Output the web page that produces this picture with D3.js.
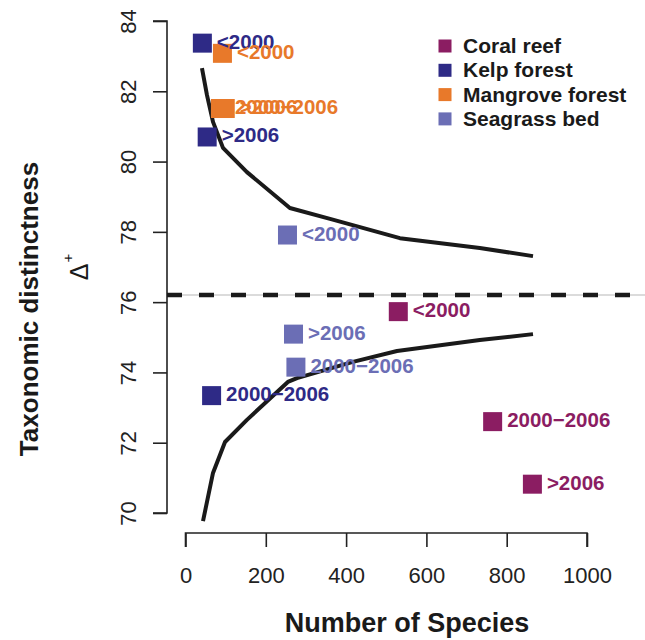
<!DOCTYPE html>
<html>
<head>
<meta charset="utf-8">
<script src="https://cdn.jsdelivr.net/npm/d3@7"></script>
<style>
  html, body { margin: 0; padding: 0; background: #fff; }
  svg { display: block; font-family: "Liberation Sans", Arial, Helvetica, sans-serif; }
</style>
</head>
<body>
<svg id="chart" width="645" height="640"></svg>
<script>
// ---- data ----
const habitats = ["Coral reef", "Kelp forest", "Mangrove forest", "Seagrass bed"];
const habitatColors = ["#8b1d62", "#2e2a86", "#e8792a", "#6b6eb5"];

const pointHabitat = ["Kelp forest", "Mangrove forest", "Mangrove forest", "Mangrove forest", "Kelp forest",
                      "Seagrass bed", "Coral reef", "Seagrass bed", "Seagrass bed", "Kelp forest",
                      "Coral reef", "Coral reef"];
const pointPeriod = ["<2000", "<2000", "2000\u22122006", ">2006", ">2006",
                     "<2000", "<2000", ">2006", "2000\u22122006", "2000\u22122006",
                     "2000\u22122006", ">2006"];
const pointSpecies = [42, 92, 87, 99, 54, 254, 530, 269, 275, 65, 765, 864];
const pointDelta = [83.37, 83.08, 81.51, 81.51, 80.70, 77.91, 75.73, 75.09, 74.15, 73.34, 72.60, 70.82];

const upperSpecies = [41, 53.5, 68.5, 93.4, 153, 260, 360, 534, 733, 865.5];
const upperDelta = [82.66, 81.89, 81.13, 80.39, 79.70, 78.68, 78.37, 77.82, 77.54, 77.31];
const lowerSpecies = [43.6, 68.5, 98.4, 153, 255, 277.7, 417, 526.8, 733, 865.5];
const lowerDelta = [69.77, 71.14, 72.02, 72.65, 73.73, 73.84, 74.30, 74.61, 74.92, 75.09];

const meanDelta = 76.2;

const xTicks = [0, 200, 400, 600, 800, 1000];
const yTicks = [70, 72, 74, 76, 78, 80, 82, 84];

// ---- drawing ----
const svg = d3.select("#chart");
const x = d3.scaleLinear().domain([0, 1000]).range([185.5, 587]);
const y = d3.scaleLinear().domain([70, 84]).range([513, 21]);
const color = d3.scaleOrdinal().domain(habitats).range(habitatColors);

// axes
const xAxis = svg.append("g").attr("transform", "translate(0,533)")
  .call(d3.axisBottom(x).tickValues(xTicks).tickFormat(d3.format("d")).tickSize(14).tickPadding(20).tickSizeOuter(0));
xAxis.select(".domain").attr("d", `M${x(0)},14V0H${x(1000)}V14`);
const yAxis = svg.append("g").attr("transform", "translate(167,0)")
  .call(d3.axisLeft(y).tickValues(yTicks).tickFormat(d3.format("d")).tickSize(14).tickSizeOuter(0));
yAxis.select(".domain").attr("d", `M-14,${y(70)}H0V${y(84)}H-14`);
[xAxis, yAxis].forEach(g => {
  g.selectAll("path, line").attr("stroke", "#222").attr("stroke-width", 1.6);
  g.selectAll("text").attr("fill", "#222").attr("font-size", 22).attr("font-family", "Liberation Sans, Arial, sans-serif");
});
xAxis.selectAll("text").attr("dy", "0.71em");
yAxis.selectAll("text")
  .attr("x", null).attr("dy", null).attr("y", null)
  .attr("text-anchor", "middle")
  .attr("transform", "translate(-31,0) rotate(-90)");

// mean line
svg.append("line").attr("x1", 167).attr("x2", 645).attr("y1", y(meanDelta)).attr("y2", y(meanDelta))
  .attr("stroke", "#cfcfcf").attr("stroke-width", 1.5);
svg.append("line").attr("x1", 167).attr("x2", 645).attr("y1", y(meanDelta)).attr("y2", y(meanDelta))
  .attr("stroke", "#1a1a1a").attr("stroke-width", 4.5).attr("stroke-dasharray", "15,17");

// funnel curves
const line = d3.line().x(d => x(d[0])).y(d => y(d[1]));
[[upperSpecies, upperDelta], [lowerSpecies, lowerDelta]].forEach(([xs, ys]) => {
  svg.append("path").datum(xs.map((v, i) => [v, ys[i]]))
    .attr("d", line).attr("fill", "none").attr("stroke", "#1a1a1a").attr("stroke-width", 4)
    .attr("stroke-linejoin", "round");
});

// points
const pts = pointSpecies.map((s, i) => ({ s, d: pointDelta[i], h: pointHabitat[i], p: pointPeriod[i] }));
const sq = 19;
svg.append("g").selectAll("rect").data(pts).join("rect")
  .attr("x", d => x(d.s) - sq / 2).attr("y", d => y(d.d) - sq / 2)
  .attr("width", sq).attr("height", sq).attr("fill", d => color(d.h));
svg.append("g").selectAll("text").data(pts).join("text")
  .attr("x", d => x(d.s) + 14.5).attr("y", d => y(d.d) + 5.5)
  .attr("font-size", 20.5).attr("font-weight", "bold").attr("fill", d => color(d.h))
  .text(d => d.p);

// legend
const lg = svg.append("g");
habitats.forEach((h, i) => {
  const cy = 46 + i * 24.3;
  lg.append("rect").attr("x", 438.5).attr("y", cy - 6.5).attr("width", 13).attr("height", 13).attr("fill", color(h));
  lg.append("text").attr("x", 463).attr("y", cy + 7).attr("font-size", 21).attr("font-weight", "bold")
    .attr("fill", "#1a1a1a").text(h);
});

// axis titles
svg.append("text").attr("x", 407).attr("y", 632).attr("text-anchor", "middle")
  .attr("font-size", 27).attr("font-weight", "bold").attr("fill", "#1a1a1a").text("Number of Species");
svg.append("text").attr("transform", "translate(38,309) rotate(-90)").attr("text-anchor", "middle")
  .attr("font-size", 26).attr("font-weight", "bold").attr("fill", "#1a1a1a").text("Taxonomic distinctness");
svg.append("text").attr("transform", "translate(88,272) rotate(-90)").attr("text-anchor", "middle")
  .attr("font-size", 25).attr("fill", "#1a1a1a").text("\u0394");
svg.append("text").attr("transform", "translate(73,258) rotate(-90)").attr("text-anchor", "middle")
  .attr("font-size", 15).attr("fill", "#1a1a1a").text("+");
</script>
</body>
</html>
